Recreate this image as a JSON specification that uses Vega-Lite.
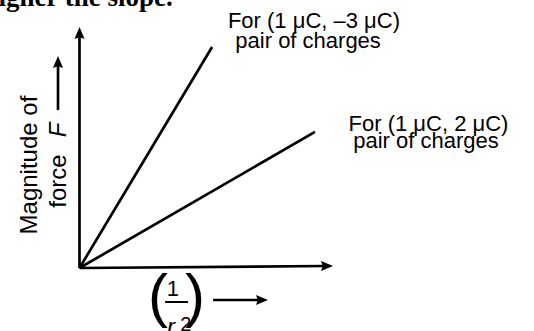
{
  "$schema": "https://vega.github.io/schema/vega-lite/v6.json",
  "width": 534,
  "height": 331,
  "padding": 0,
  "autosize": {"type": "none"},
  "background": "white",
  "config": {"view": {"stroke": null}},
  "datasets": {
    "strokes": [
      {"part": "F axis", "x": 0, "y": 0, "x2": 0, "y2": 9.7},
      {"part": "1/r^2 axis", "x": 0, "y": 0, "x2": 9.67, "y2": 0.083},
      {"part": "(1 uC, -3 uC)", "x": 0, "y": 0, "x2": 5.22, "y2": 9.21},
      {"part": "(1 uC, 2 uC)", "x": 0, "y": 0, "x2": 9.27, "y2": 5.67},
      {"part": "x label arrow", "x": 5.26, "y": -1.333, "x2": 7.11, "y2": -1.333},
      {"part": "y label arrow", "x": -0.846, "y": 6.58, "x2": -0.846, "y2": 8.5}
    ],
    "fractionBar": [
      {"x": 3.37, "y": -1.417, "x2": 4.27, "y2": -1.417}
    ],
    "headsRight": [
      {"x": 9.98, "y": 0.083},
      {"x": 7.42, "y": -1.333}
    ],
    "headsUp": [
      {"x": 0, "y": 10.04},
      {"x": -0.846, "y": 8.83}
    ],
    "labels": [
      {"text": "For (1 μC, –3 μC)", "x": 9.23, "y": 10.0},
      {"text": "pair of charges", "x": 9.0, "y": 9.17},
      {"text": "For (1 μC, 2 μC)", "x": 13.74, "y": 5.72},
      {"text": "pair of charges", "x": 13.64, "y": 4.99},
      {"text": "1", "x": 3.68, "y": -1.167}
    ],
    "yTitle": [
      {"text": "Magnitude of", "x": -1.67, "y": 4.29},
      {"text": "force", "x": -0.53, "y": 3.62}
    ],
    "yTitleSymbol": [
      {"text": "F", "x": -0.53, "y": 5.75}
    ],
    "parens": [
      {"text": "(", "x": 3.09, "y": -2.0},
      {"text": ")", "x": 4.55, "y": -2.0}
    ],
    "rSymbol": [
      {"text": "r", "x": 3.6, "y": -2.79}
    ],
    "exponent": [
      {"text": "2", "x": 4.19, "y": -2.625}
    ],
    "caption": [
      {"text": "higher the slope.", "x": -3.78, "y": 10.92}
    ]
  },
  "encoding": {
    "x": {"field": "x", "type": "quantitative", "axis": null,
          "scale": {"domain": [-3.13, 17.894], "nice": false, "zero": false}},
    "y": {"field": "y", "type": "quantitative", "axis": null,
          "scale": {"domain": [-2.625, 11.1667], "nice": false, "zero": false}}
  },
  "layer": [
    {
      "data": {"name": "strokes"},
      "mark": {"type": "rule", "color": "black", "strokeWidth": 2.7},
      "encoding": {"x2": {"field": "x2"}, "y2": {"field": "y2"}}
    },
    {
      "data": {"name": "fractionBar"},
      "mark": {"type": "rule", "color": "black", "strokeWidth": 2},
      "encoding": {"x2": {"field": "x2"}, "y2": {"field": "y2"}}
    },
    {
      "data": {"name": "headsRight"},
      "mark": {"type": "point", "filled": true, "color": "black", "opacity": 1, "size": 144,
               "shape": "M0,0L-2,-0.85L-1.7,0L-2,0.85Z"}
    },
    {
      "data": {"name": "headsUp"},
      "mark": {"type": "point", "filled": true, "color": "black", "opacity": 1, "size": 144,
               "shape": "M0,0L-0.85,2L0,1.7L0.85,2Z"}
    },
    {
      "data": {"name": "labels"},
      "mark": {"type": "text", "font": "Liberation Sans", "fontSize": 22, "color": "black",
               "align": "center", "baseline": "alphabetic"},
      "encoding": {"text": {"field": "text"}}
    },
    {
      "data": {"name": "yTitle"},
      "mark": {"type": "text", "font": "Liberation Sans", "fontSize": 24, "color": "black",
               "angle": 270, "align": "center", "baseline": "alphabetic"},
      "encoding": {"text": {"field": "text"}}
    },
    {
      "data": {"name": "yTitleSymbol"},
      "mark": {"type": "text", "font": "Liberation Sans", "fontSize": 24, "fontStyle": "italic",
               "color": "black", "angle": 270, "align": "center", "baseline": "alphabetic"},
      "encoding": {"text": {"field": "text"}}
    },
    {
      "data": {"name": "parens"},
      "mark": {"type": "text", "font": "Liberation Sans", "fontSize": 60, "color": "black",
               "align": "center", "baseline": "alphabetic"},
      "encoding": {"text": {"field": "text"}}
    },
    {
      "data": {"name": "rSymbol"},
      "mark": {"type": "text", "font": "Liberation Sans", "fontSize": 24, "fontStyle": "italic",
               "color": "black", "align": "center", "baseline": "alphabetic"},
      "encoding": {"text": {"field": "text"}}
    },
    {
      "data": {"name": "exponent"},
      "mark": {"type": "text", "font": "Liberation Sans", "fontSize": 20, "color": "black",
               "align": "center", "baseline": "alphabetic"},
      "encoding": {"text": {"field": "text"}}
    },
    {
      "data": {"name": "caption"},
      "mark": {"type": "text", "font": "Liberation Serif", "fontSize": 27, "fontWeight": "bold",
               "color": "black", "align": "left", "baseline": "alphabetic"},
      "encoding": {"text": {"field": "text"}}
    }
  ]
}
